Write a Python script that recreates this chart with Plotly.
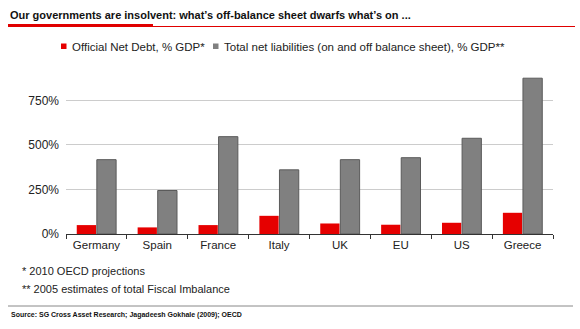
import plotly.graph_objects as go

countries = ["Germany", "Spain", "France", "Italy", "UK", "EU", "US", "Greece"]
official_net_debt = [50, 37, 50, 102, 59, 52, 63, 119]
total_net_liabilities = [417, 244, 546, 360, 417, 428, 537, 874]
y_ticks = [0, 250, 500, 750]
y_tick_labels = ["0%", "250%", "500%", "750%"]
series_names = ["Official Net Debt, % GDP*",
                "Total net liabilities (on and off balance sheet), % GDP**"]
series_colors = ["#e60000", "#808080"]

W, H = 580, 329
FONT = "Liberation Sans, Arial, sans-serif"
L, R, T, B = 66, 27, 70, 95
PW, PH = W - L - R, H - T - B


def px(x):
    return (x - L) / PW


def py(y):
    return 1 - (y - T) / PH


fig = go.Figure()
fig.add_trace(go.Bar(x=countries, y=official_net_debt, name=series_names[0],
                     marker=dict(color=series_colors[0], line=dict(width=0))))
fig.add_trace(go.Bar(x=countries, y=total_net_liabilities, name=series_names[1],
                     marker=dict(color=series_colors[1], line=dict(color="#5a5a5a", width=1))))

fig.update_layout(
    width=W, height=H,
    margin=dict(l=L, r=R, t=T, b=B, autoexpand=False),
    paper_bgcolor="white", plot_bgcolor="white",
    barmode="group", bargap=0.34, bargroupgap=0.04,
    font=dict(family=FONT, size=12, color="#222"),
    showlegend=False,
    xaxis=dict(showline=True, linecolor="#333", linewidth=1, ticks="outside",
               tickson="boundaries", ticklen=4, tickcolor="#333",
               tickfont=dict(size=11.5, color="#222"), showgrid=False),
    yaxis=dict(range=[0, 920], tickvals=y_ticks, ticktext=y_tick_labels,
               showgrid=True, gridcolor="#cccccc", gridwidth=1,
               zeroline=True, zerolinecolor="#333", zerolinewidth=1,
               tickfont=dict(size=12, color="#222"), ticks="", ticklabelstandoff=6),
)

# Title
fig.add_annotation(text="<b>Our governments are insolvent: what’s off-balance sheet dwarfs what’s on ...</b>",
                   xref="paper", yref="paper", x=px(8), y=py(15),
                   xanchor="left", yanchor="middle", showarrow=False,
                   font=dict(size=11, color="#111", family=FONT))
# Red lines under title
fig.add_shape(type="line", xref="paper", yref="paper", x0=px(8), x1=px(575),
              y0=py(26.5), y1=py(26.5), line=dict(color="#e00000", width=1))
fig.add_shape(type="line", xref="paper", yref="paper", x0=px(8), x1=px(153),
              y0=py(25.5), y1=py(25.5), line=dict(color="#e00000", width=3))

# Legend (custom, compact)
legend_x = [61, 213]
for i in range(2):
    fig.add_shape(type="rect", xref="paper", yref="paper",
                  x0=px(legend_x[i]), x1=px(legend_x[i] + 5.5),
                  y0=py(49), y1=py(43.5),
                  fillcolor=series_colors[i], line=dict(width=0))
    fig.add_annotation(text=series_names[i], xref="paper", yref="paper",
                       x=px(legend_x[i] + 9), y=py(46.5), xanchor="left", yanchor="middle",
                       showarrow=False, font=dict(size=11.5, color="#222"))

# Footnotes
fig.add_annotation(text="* 2010 OECD projections", xref="paper", yref="paper",
                   x=px(20), y=py(271), xanchor="left", yanchor="middle",
                   showarrow=False, font=dict(size=11, color="#222"))
fig.add_annotation(text="** 2005 estimates of total Fiscal Imbalance", xref="paper", yref="paper",
                   x=px(20), y=py(289), xanchor="left", yanchor="middle",
                   showarrow=False, font=dict(size=11, color="#222"))
# Source line and text
fig.add_shape(type="line", xref="paper", yref="paper", x0=px(8), x1=px(573),
              y0=py(306), y1=py(306), line=dict(color="#888", width=1))
fig.add_annotation(text="<b>Source: SG Cross Asset Research; Jagadeesh Gokhale (2009); OECD</b>",
                   xref="paper", yref="paper", x=px(9), y=py(315),
                   xanchor="left", yanchor="middle",
                   showarrow=False, font=dict(size=7, color="#111"))

fig.write_html("out.html")
